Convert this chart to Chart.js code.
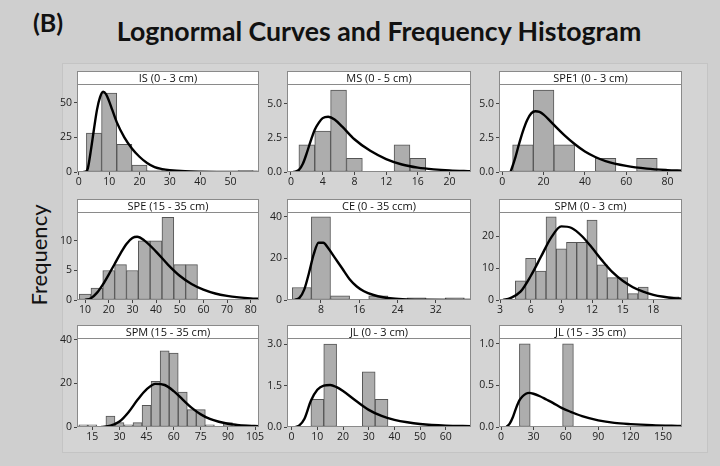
<!DOCTYPE html>
<html>
<head>
<meta charset="utf-8">
<script src="https://cdn.jsdelivr.net/npm/chart.js@4.4.0/dist/chart.umd.min.js"></script>
<style>
  body { margin: 0; background: #cfcfcf; }
  #page { position: relative; width: 720px; height: 466px; overflow: hidden; font-family: Lato, "Open Sans", sans-serif; color: #111; }
  #frame { position: absolute; left: 62px; top: 63px; width: 644px; height: 388px; background: #d4d4d4; border: 1px solid #c4c4c4; }
  #tag { position: absolute; left: 33px; top: 7px; font-weight: bold; font-size: 25px; }
  #title { position: absolute; left: 0; width: 758px; top: 15px; text-align: center; font-weight: bold; font-size: 26.7px; }
  #ylab { position: absolute; left: 38px; top: 255px; transform: translate(-50%, -50%) rotate(-90deg); font-size: 22px; white-space: nowrap; }
  canvas { position: absolute; }
</style>
</head>
<body>
<div id="page">
  <div id="frame"></div>
  <div id="tag">(B)</div>
  <div id="title">Lognormal Curves and Frequency Histogram</div>
  <div id="ylab">Frequency</div>
</div>
<script>
// panel headers, row by row
const panelTitles = ["IS (0 - 3 cm)", "MS (0 - 5 cm)", "SPE1 (0 - 3 cm)",
                     "SPE (15 - 35 cm)", "CE (0 - 35 ccm)", "SPM (0 - 3 cm)",
                     "SPM (15 - 35 cm)", "JL (0 - 3 cm)", "JL (15 - 35 cm)"];

// IS
const isBins = [5, 10, 15, 20, 25, 30, 35, 40, 45, 50, 55];
const isCounts = [28, 57, 20, 5, 1, 1, 0, 0, 0, 0, 1];
const isCurveX = [1.5, 2.5, 3, 4, 5, 6, 7, 8, 9, 10, 11, 12.5, 15, 17.5, 20, 22.5, 25, 27.5, 30, 35, 40, 50, 59];
const isCurveY = [0, 0.5, 3, 16, 31, 45, 54, 58, 56, 51, 45, 36, 25, 17, 11, 6.5, 3.5, 2.1, 1.3, 0.5, 0.2, 0.04, 0.01];
const isXTicks = [0, 10, 20, 30, 40, 50];
const isYTicks = [0, 25, 50];

// MS
const msBins = [2, 4, 6, 8, 10, 12, 14, 16];
const msCounts = [2, 3, 6, 1, 0, 0, 2, 1];
const msCurveX = [0.3, 1, 1.5, 2, 2.5, 3, 3.5, 4, 4.7, 5.5, 6.5, 8, 10, 12, 14, 16, 18, 20, 22.7];
const msCurveY = [0, 0.15, 0.6, 1.4, 2.3, 3.1, 3.6, 3.95, 4.05, 3.85, 3.3, 2.4, 1.55, 0.95, 0.55, 0.32, 0.19, 0.11, 0.05];
const msXTicks = [0, 4, 8, 12, 16, 20];
const msYTicks = [0, 2.5, 5];

// SPE1
const spe1Bins = [10, 20, 30, 40, 50, 60, 70];
const spe1Counts = [2, 6, 2, 0, 1, 0, 1];
const spe1CurveX = [4, 6, 8, 10, 12, 14, 16, 18, 20, 25, 30, 35, 40, 45, 50, 60, 70, 80, 87];
const spe1CurveY = [0, 0.9, 2.0, 3.0, 3.8, 4.3, 4.45, 4.4, 4.2, 3.45, 2.7, 2.05, 1.5, 1.1, 0.8, 0.45, 0.25, 0.14, 0.09];
const spe1XTicks = [0, 20, 40, 60, 80];
const spe1YTicks = [0, 2.5, 5];

// SPE
const speBins = [10, 15, 20, 25, 30, 35, 40, 45, 50, 55];
const speCounts = [1, 2, 5, 6, 5, 10, 10, 14, 6, 6];
const speCurveX = [10, 12.5, 15, 17.5, 20, 22.5, 25, 27.5, 30, 32, 35, 40, 45, 50, 55, 60, 65, 70, 75, 80, 83.5];
const speCurveY = [0, 0.3, 1.2, 2.6, 4.3, 6.1, 7.9, 9.5, 10.5, 10.7, 10.1, 8.2, 6.0, 4.1, 2.7, 1.75, 1.1, 0.7, 0.45, 0.28, 0.2];
const speXTicks = [10, 20, 30, 40, 50, 60, 70, 80];
const speYTicks = [0, 5, 10];

// CE
const ceBins = [4, 8, 12, 16, 20, 24, 28, 32, 36];
const ceCounts = [6, 40, 2, 0, 2, 0, 1, 0, 1];
const ceCurveX = [2.5, 3.5, 4.5, 5.5, 6.5, 7.5, 8.5, 9.5, 11, 12.5, 14, 15.5, 17, 19, 21, 23, 26, 30, 39.4];
const ceCurveY = [0, 1, 5, 13, 22, 27.5, 27.5, 25, 20, 15, 10, 6.5, 4.2, 2.4, 1.3, 0.7, 0.3, 0.1, 0];
const ceXTicks = [8, 16, 24, 32];
const ceYTicks = [0, 20, 40];

// SPM 0-3
const spmBins = [5, 6, 7, 8, 9, 10, 11, 12, 13, 14, 15, 16, 17, 18, 19, 20];
const spmCounts = [6, 13, 9, 26, 16, 18, 18, 25, 11, 7, 7, 2, 4, 0, 0, 1];
const spmCurveX = [3.3, 4, 5, 6, 7, 8, 9, 10, 11, 12, 13, 14, 15, 16, 17, 18, 19, 20, 20.8];
const spmCurveY = [0, 0.6, 2.6, 7.5, 13.5, 19.5, 23, 22.5, 20, 16.3, 12.3, 8.7, 6, 4, 2.6, 1.6, 1, 0.6, 0.4];
const spmXTicks = [3, 6, 9, 12, 15, 18];
const spmYTicks = [0, 10, 20];

// SPM 15-35
const spmDeepBins = [10, 15, 20, 25, 30, 35, 40, 45, 50, 55, 60, 65, 70, 75, 80, 85, 90, 95, 100];
const spmDeepCounts = [1, 1, 0, 5, 2, 1, 2, 10, 21, 35, 34, 16, 8, 8, 1, 0, 2, 0, 1];
const spmDeepCurveX = [20, 25, 30, 35, 40, 45, 50, 55, 60, 65, 70, 75, 80, 85, 90, 95, 100, 107];
const spmDeepCurveY = [0, 0.6, 2.5, 6.8, 12.5, 17.3, 19.8, 19.3, 16.5, 12.6, 8.8, 5.8, 3.7, 2.4, 1.5, 1.0, 0.65, 0.35];
const spmDeepXTicks = [15, 30, 45, 60, 75, 90, 105];
const spmDeepYTicks = [0, 20, 40];

// JL 0-3
const jlBins = [10, 15, 20, 25, 30, 35];
const jlCounts = [1, 3, 0, 0, 2, 1];
const jlCurveX = [1.5, 3, 5, 7.5, 10, 12.5, 15, 17.5, 20, 25, 30, 35, 40, 45, 50, 60, 69.8];
const jlCurveY = [0, 0.06, 0.3, 0.95, 1.35, 1.5, 1.52, 1.44, 1.3, 0.95, 0.62, 0.4, 0.26, 0.17, 0.11, 0.05, 0.03];
const jlXTicks = [0, 10, 20, 30, 40, 50, 60];
const jlYTicks = [0, 1.5, 3];

// JL 15-35
const jlDeepBins = [22, 32, 42, 52, 62];
const jlDeepCounts = [1, 0, 0, 0, 1];
const jlDeepCurveX = [5, 8, 11, 14, 17, 20, 23, 26, 30, 36, 42, 48, 56, 65, 75, 90, 105, 120, 140, 167];
const jlDeepCurveY = [0, 0.04, 0.12, 0.23, 0.32, 0.37, 0.4, 0.41, 0.4, 0.37, 0.33, 0.29, 0.23, 0.18, 0.13, 0.08, 0.05, 0.035, 0.022, 0.012];
const jlDeepXTicks = [0, 30, 60, 90, 120, 150];
const jlDeepYTicks = [0, 0.5, 1];

const panels = [
  { bins: isBins, counts: isCounts, cx: isCurveX, cy: isCurveY, xt: isXTicks, yt: isYTicks, xMin: -0.6, xMax: 59.4, yMax: 63.5, dec: 0 },
  { bins: msBins, counts: msCounts, cx: msCurveX, cy: msCurveY, xt: msXTicks, yt: msYTicks, xMin: -0.5, xMax: 22.7, yMax: 6.45, dec: 1 },
  { bins: spe1Bins, counts: spe1Counts, cx: spe1CurveX, cy: spe1CurveY, xt: spe1XTicks, yt: spe1YTicks, xMin: -1.6, xMax: 87, yMax: 6.45, dec: 1 },
  { bins: speBins, counts: speCounts, cx: speCurveX, cy: speCurveY, xt: speXTicks, yt: speYTicks, xMin: 6.6, xMax: 83.5, yMax: 14.9, dec: 0 },
  { bins: ceBins, counts: ceCounts, cx: ceCurveX, cy: ceCurveY, xt: ceXTicks, yt: ceYTicks, xMin: 0.9, xMax: 39.4, yMax: 42.3, dec: 0 },
  { bins: spmBins, counts: spmCounts, cx: spmCurveX, cy: spmCurveY, xt: spmXTicks, yt: spmYTicks, xMin: 2.9, xMax: 20.8, yMax: 27.5, dec: 0 },
  { bins: spmDeepBins, counts: spmDeepCounts, cx: spmDeepCurveX, cy: spmDeepCurveY, xt: spmDeepXTicks, yt: spmDeepYTicks, xMin: 6.5, xMax: 107.2, yMax: 40.9, dec: 0 },
  { bins: jlBins, counts: jlCounts, cx: jlCurveX, cy: jlCurveY, xt: jlXTicks, yt: jlYTicks, xMin: -1.8, xMax: 69.8, yMax: 3.22, dec: 1 },
  { bins: jlDeepBins, counts: jlDeepCounts, cx: jlDeepCurveX, cy: jlDeepCurveY, xt: jlDeepXTicks, yt: jlDeepYTicks, xMin: -1.9, xMax: 167.6, yMax: 1.07, dec: 1 }
];

// grid of plot boxes on the page
const colLeft = [77, 287, 499];
const colWidth = [182, 184, 183];
const rowTop = [71, 199, 325];
const rowPlotH = [88, 88, 89];
const HEAD = 13, YW = 26, XH = 18, PADR = 12;

const tickFont = { family: '"Open Sans", sans-serif', size: 10.5 };

// white plot area, grey frame, white header strip with the panel name
const framePlugin = {
  id: 'frame',
  beforeDraw(chart) {
    const { ctx, chartArea: a } = chart;
    ctx.save();
    ctx.fillStyle = '#fff';
    ctx.fillRect(a.left, a.top, a.right - a.left, a.bottom - a.top);
    ctx.restore();
  },
  afterDraw(chart, args, opts) {
    const { ctx, chartArea: a } = chart;
    ctx.save();
    ctx.strokeStyle = '#8a8a8a';
    ctx.lineWidth = 1;
    ctx.strokeRect(a.left + 0.5, a.top + 0.5, a.right - a.left - 1, a.bottom - a.top - 1);
    ctx.fillStyle = '#fff';
    ctx.fillRect(a.left, 0, a.right - a.left, a.top);
    ctx.strokeRect(a.left + 0.5, 0.5, a.right - a.left - 1, a.top);
    ctx.fillStyle = '#111';
    ctx.font = '11px "Open Sans", sans-serif';
    ctx.textAlign = 'center';
    ctx.textBaseline = 'middle';
    ctx.fillText(opts.title, (a.left + a.right) / 2, a.top / 2 + 1);
    ctx.restore();
  }
};

const page = document.getElementById('page');

panels.forEach((p, i) => {
  const r = Math.floor(i / 3), c = i % 3;
  const cv = document.createElement('canvas');
  cv.width = YW + colWidth[c] + PADR;
  cv.height = HEAD + rowPlotH[r] + XH;
  cv.style.left = (colLeft[c] - YW) + 'px';
  cv.style.top = rowTop[r] + 'px';
  page.appendChild(cv);

  new Chart(cv, {
    type: 'bar',
    data: {
      datasets: [
        {
          type: 'line',
          data: p.cx.map((x, k) => ({ x: x, y: p.cy[k] })),
          borderColor: '#000',
          borderWidth: 2.4,
          pointRadius: 0,
          cubicInterpolationMode: 'monotone',
          order: 0
        },
        {
          type: 'bar',
          data: p.bins.map((x, k) => ({ x: x, y: p.counts[k] })),
          backgroundColor: '#adadad',
          borderColor: '#555',
          borderWidth: 1,
          borderSkipped: false,
          barPercentage: 1,
          categoryPercentage: 1,
          order: 1
        }
      ]
    },
    options: {
      responsive: false,
      animation: false,
      layout: { padding: { top: HEAD, right: PADR, left: 0, bottom: 0 } },
      plugins: {
        legend: { display: false },
        tooltip: { enabled: false },
        frame: { title: panelTitles[i] }
      },
      scales: {
        x: {
          type: 'linear',
          min: p.xMin,
          max: p.xMax,
          offset: false,
          afterBuildTicks: s => { s.ticks = p.xt.map(v => ({ value: v })); },
          afterFit: s => { s.height = XH; },
          grid: { offset: false, drawOnChartArea: false, tickLength: 3, color: '#444' },
          border: { display: false },
          ticks: { font: tickFont, color: '#222', padding: 1, maxRotation: 0, autoSkip: false }
        },
        y: {
          min: 0,
          max: p.yMax,
          afterBuildTicks: s => { s.ticks = p.yt.map(v => ({ value: v })); },
          afterFit: s => { s.width = YW; },
          grid: { drawOnChartArea: false, tickLength: 3, color: '#444' },
          border: { display: false },
          ticks: { font: tickFont, color: '#222', padding: 2, callback: v => v.toFixed(p.dec) }
        }
      }
    },
    plugins: [framePlugin]
  });
});
</script>
</body>
</html>
